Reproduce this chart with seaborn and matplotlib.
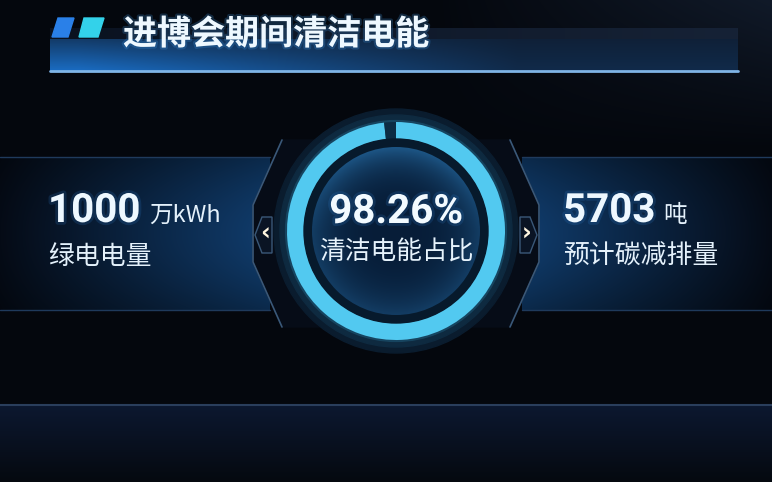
import numpy as np
import matplotlib
matplotlib.use("Agg")
import matplotlib.pyplot as plt
import matplotlib.patheffects as pe
import seaborn as sns
from matplotlib.patches import Circle, Polygon
from matplotlib.colors import to_rgb

# ---- data ----
title = "进博会期间清洁电能"
clean_share = 98.26          # 清洁电能占比 (%)
center_label = "清洁电能占比"
kpi_values = ["1000", "5703"]
kpi_units = ["万kWh", "吨"]
kpi_labels = ["绿电电量", "预计碳减排量"]

W, H = 772, 482
sns.set_theme(style="dark")
plt.rcParams['font.family'] = ['Roboto', 'Noto Sans CJK SC', 'DejaVu Sans']
CJK = ['Noto Sans CJK SC', 'DejaVu Sans']

fig = plt.figure(figsize=(W / 100, H / 100), dpi=100)
fig.patch.set_facecolor('#04070d')
ax = fig.add_axes([0, 0, 1, 1])
ax.axis('off')


def rgb(c):
    return np.array(to_rgb(c))


def grad_box(x0, x1, y0, y1, c0, c1, vprof=None, z=1):
    # horizontal colour gradient, optional vertical brightness profile
    t = np.linspace(0, 1, 256)
    row = rgb(c0) + (rgb(c1) - rgb(c0)) * t[:, None]
    img = np.tile(row[None, :, :], (64, 1, 1))
    if vprof is not None:
        s = np.linspace(0, 1, 64)
        img = img * vprof(s)[:, None, None]
    ax.imshow(np.clip(img, 0, 1), extent=(x0, x1, y1, y0), zorder=z,
              aspect='auto', interpolation='bilinear')


# ---- background ----
yy, xx = np.mgrid[0:H, 0:W]
base = rgb('#04070d')
bg = np.tile(base, (H, W, 1))
glow = np.clip((xx - 430) / 380, 0, 1) * np.clip((150 - yy) / 150, 0, 1)
bg += glow[..., None] * (rgb('#121c2c') - base)
t = np.clip((yy - 405) / 77, 0, 1)
band = rgb('#0c1830') * (1 - t[..., None]) + rgb('#05090f') * t[..., None]
bg = np.where((yy >= 405)[..., None], band, bg)
ax.imshow(bg, extent=(0, W, H, 0), zorder=0, aspect='auto')
ax.plot([0, W], [405, 405], color='#2a3e5c', lw=1.5, zorder=1)

# ---- header ----
grad_box(50, 738, 28, 39, '#0a1220', '#162236', z=1)
hx = np.linspace(0, 1, 400)
hy = np.linspace(0, 1, 80)
fx = np.clip(1.05 - hx * 1.25, 0.2, 1.0)
fy = 0.4 + 0.6 * hy
mix = (fy[:, None] * fx[None, :])[..., None]
head = rgb('#0e1a2c') + (rgb('#1a6cc2') - rgb('#0e1a2c')) * mix
ax.imshow(head, extent=(50, 738, 71, 39), zorder=1, aspect='auto', interpolation='bilinear')
ax.plot([50, 738], [71, 71], color='#7fb4e6', lw=2, zorder=2)
ax.add_patch(Polygon([(58, 18), (74, 18), (68, 37), (52, 37)], color='#2a80e8', zorder=3))
ax.add_patch(Polygon([(84, 18), (104, 18), (98, 37), (79, 37)], color='#33d2ea', zorder=3))
ax.text(123, 34, title, fontsize=24.5, fontweight='heavy', color='#eef8ff',
        va='center', ha='left', family=CJK, zorder=4,
        path_effects=[pe.withStroke(linewidth=3, foreground='#3d8fd8', alpha=0.25)])

# ---- side panels ----
vp = lambda s: 0.7 + 0.3 * np.sin(np.pi * s)
grad_box(0, 270, 157, 310, '#050b16', '#103c6c', vprof=vp, z=1)
grad_box(522, 772, 157, 310, '#103c6c', '#050b16', vprof=vp, z=1)
for xs in ([0, 270], [522, 772]):
    ax.plot(xs, [157, 157], color='#1f3a5c', lw=1, zorder=2)
    ax.plot(xs, [310, 310], color='#1f3a5c', lw=1, zorder=2)

# brackets around the gauge
left_br = [(282, 140), (253, 205), (253, 262), (282, 327)]
right_br = [(510, 140), (539, 205), (539, 262), (510, 327)]
ax.add_patch(Polygon(left_br + [(396, 327), (396, 140)], color='#060c17', zorder=3))
ax.add_patch(Polygon(right_br + [(396, 327), (396, 140)], color='#060c17', zorder=3))
for br in (left_br, right_br):
    bx, by = zip(*br)
    ax.plot(bx, by, color='#3a5878', lw=1.2, zorder=4)

ax.add_patch(Polygon([(255, 235), (262, 217), (272, 217), (272, 253), (262, 253)],
                     facecolor='#0a1424', edgecolor='#3a5878', lw=1, zorder=5))
ax.add_patch(Polygon([(537, 235), (530, 217), (520, 217), (520, 253), (530, 253)],
                     facecolor='#0a1424', edgecolor='#3a5878', lw=1, zorder=5))
ax.text(265, 234, "\u2039", color='#fff6e0', fontsize=17, fontweight='bold',
        ha='center', va='center', family='DejaVu Sans', zorder=6)
ax.text(527, 234, "\u203a", color='#fff6e0', fontsize=17, fontweight='bold',
        ha='center', va='center', family='DejaVu Sans', zorder=6)

# ---- KPI texts ----
txt_fx = [pe.withStroke(linewidth=4, foreground='#2f7fd0', alpha=0.18)]
kpi_x = [48, 563]
unit_x = [149, 663]
for x0, ux, v, u, lab in zip(kpi_x, unit_x, kpi_values, kpi_units, kpi_labels):
    ax.text(x0, 222, v, fontsize=29, fontweight='bold', color='#eef8ff',
            ha='left', va='baseline', family='Roboto', zorder=6, path_effects=txt_fx)
    ax.text(ux, 222, u, fontsize=17, color='#e4f1fb', ha='left', va='baseline',
            family=CJK, zorder=6)
    ax.text(x0, 256, lab, fontsize=18.6, color='#e4f1fb', ha='left', va='center',
            family=CJK, zorder=6)

ax.set_xlim(0, W)
ax.set_ylim(H, 0)

# ---- gauge (donut) ----
cx, cy, R = 396, 231, 128
ax_d = fig.add_axes([(cx - R) / W, (H - cy - R) / H, 2 * R / W, 2 * R / H])
ax_d.axis('off')
ax_d.add_patch(Circle((0, 0), 122, color='#0a1c2e', zorder=1))
ax_d.add_patch(Circle((0, 0), 116, color='#0e2a40', zorder=1))
ax_d.add_patch(Circle((0, 0), 100, fill=False, lw=16, color='#3fbfee', alpha=0.18, zorder=1))
ax_d.pie([clean_share, 100 - clean_share], radius=109, startangle=90, counterclock=False,
         colors=['#52c9f0', '#0c2c44'], center=(0, 0),
         wedgeprops=dict(width=17, edgecolor='none', zorder=2))
ax_d.add_patch(Circle((0, 0), 92, color='#071a2c', zorder=3))

gx, gy = np.meshgrid(np.linspace(-1, 1, 200), np.linspace(-1, 1, 200))
rr = np.sqrt(gx ** 2 + gy ** 2)
w = np.clip(rr, 0, 1) ** 3 * (0.55 + 0.45 * np.clip(gy, 0, 1))
disk = rgb('#071d38') + (rgb('#1d5686') - rgb('#071d38')) * w[..., None]
im = ax_d.imshow(disk, extent=(-84, 84, -84, 84), origin='lower', zorder=4,
                 interpolation='bilinear')
im.set_clip_path(Circle((0, 0), 84, transform=ax_d.transData))
ax_d.set_xlim(-R, R)
ax_d.set_ylim(-R, R)
ax_d.set_aspect('auto')

# centre texts (drawn on the pixel axes, above the gauge)
ax_t = fig.add_axes([0, 0, 1, 1])
ax_t.axis('off')
ax_t.set_xlim(0, W)
ax_t.set_ylim(H, 0)
ax_t.patch.set_alpha(0)
ax_t.text(cx, 223, f"{clean_share:.2f}%", fontsize=29, fontweight='bold', color='#f2faff',
          ha='center', va='baseline', family='Roboto', path_effects=txt_fx)
ax_t.text(cx, 253, center_label, fontsize=18.5, color='#e6f3fc', ha='center', va='center',
          family=CJK)

fig.savefig("out.png", dpi=100, facecolor=fig.get_facecolor())
